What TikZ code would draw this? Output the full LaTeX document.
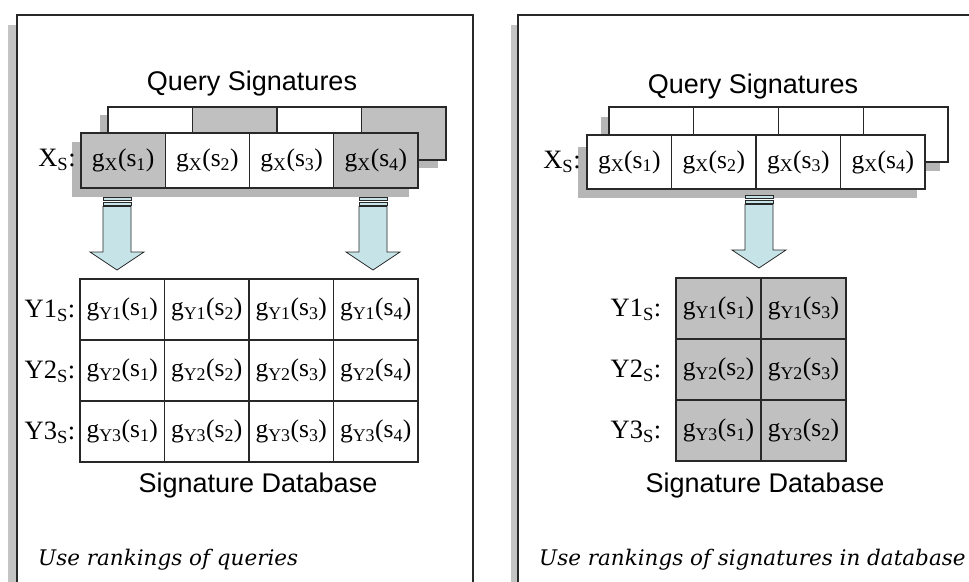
\documentclass[tikz,border=0pt]{standalone}
\usepackage{fontspec}
\setmainfont{Liberation Serif}
\newfontfamily\headfont{Liberation Sans}
\newfontfamily\notefont{DejaVu Serif}
\definecolor{cellgray}{RGB}{192,192,192}
\definecolor{shadowgray}{RGB}{182,182,182}
\definecolor{framegray}{RGB}{196,196,196}
\definecolor{arrowcyan}{RGB}{198,228,232}
\definecolor{linedark}{RGB}{40,40,40}
\tikzset{
  cell/.style={draw=linedark, line width=1.2pt, inner sep=0pt, font=\fontsize{25.5}{28}\selectfont},
  frontL/.style={cell, minimum width=84.25pt, minimum height=55pt},
  backL/.style={cell, minimum width=84.5pt, minimum height=53pt},
  gridL/.style={cell, minimum width=84.5pt, minimum height=61pt},
  frontR/.style={cell, minimum width=84.5pt, minimum height=54pt},
  backR/.style={cell, minimum width=84.75pt, minimum height=55pt},
  gridR/.style={cell, minimum width=85pt, minimum height=61pt},
  gfill/.style={fill=cellgray},
  wfill/.style={fill=white},
  head/.style={font=\headfont\fontsize{27}{30}\selectfont, inner sep=0pt},
  rowlab/.style={font=\fontsize{26.5}{28}\selectfont, inner sep=0pt},
  note/.style={font=\notefont\itshape\fontsize{21.5}{24}\selectfont, inner sep=0pt, anchor=west},
  frameline/.style={draw=linedark, line width=1.6pt},
  arrowpart/.style={draw=linedark, line width=0.8pt, fill=arrowcyan},
  dnarrow/.pic={
    \path[arrowpart] (-14,0) rectangle (14,3.5);
    \path[arrowpart] (-14,5) rectangle (14,8);
    \path[arrowpart] (-14,9.5) -- (14,9.5) -- (14,55) -- (27,55) -- (0,73) -- (-27,55) -- (-14,55) -- cycle;
  }
}
\begin{document}
\begin{tikzpicture}[x=1pt,y=-1pt]
\useasboundingbox (0,0) rectangle (969,581);
\clip (0,0) rectangle (969,581);
\fill[white] (0,0) rectangle (969,581);
% frames
\fill[framegray] (8,25) rectangle (17,600);
\draw[frameline] (17,600) -- (17,15) -- (473,15) -- (473,600);
\fill[framegray] (511,25) rectangle (518,600);
\draw[frameline] (518,600) -- (518,15) -- (1000,15);

% ---------------- LEFT PANEL ----------------
\node[head] (qL) at (252,84) {Query Signatures};
\fill[shadowgray] (100,115) rectangle (438,168);
\node[backL,wfill] (lb1) at (150.25,133.5) {};
\node[backL,gfill] (lb2) at (234.75,133.5) {};
\node[backL,wfill] (lb3) at (319.25,133.5) {};
\node[backL,gfill] (lb4) at (403.75,133.5) {};
\fill[shadowgray] (72,142) rectangle (409,197);
\node[frontL,gfill] (lf1) at (123.125,160.5) {g\textsubscript{X}(s\textsubscript{1})};
\node[frontL,wfill] (lf2) at (207.375,160.5) {g\textsubscript{X}(s\textsubscript{2})};
\node[frontL,wfill] (lf3) at (291.625,160.5) {g\textsubscript{X}(s\textsubscript{3})};
\node[frontL,gfill] (lf4) at (375.875,160.5) {g\textsubscript{X}(s\textsubscript{4})};
\node[rowlab] (lx) at (57,160) {X\textsubscript{S}:};

\pic at (117,197) {dnarrow};
\pic at (373,197) {dnarrow};

\node[gridL] (l11) at (122.25,309.5) {g\textsubscript{Y1}(s\textsubscript{1})};
\node[gridL] (l12) at (206.75,309.5) {g\textsubscript{Y1}(s\textsubscript{2})};
\node[gridL] (l13) at (291.25,309.5) {g\textsubscript{Y1}(s\textsubscript{3})};
\node[gridL] (l14) at (375.75,309.5) {g\textsubscript{Y1}(s\textsubscript{4})};
\node[gridL] (l21) at (122.25,370.5) {g\textsubscript{Y2}(s\textsubscript{1})};
\node[gridL] (l22) at (206.75,370.5) {g\textsubscript{Y2}(s\textsubscript{2})};
\node[gridL] (l23) at (291.25,370.5) {g\textsubscript{Y2}(s\textsubscript{3})};
\node[gridL] (l24) at (375.75,370.5) {g\textsubscript{Y2}(s\textsubscript{4})};
\node[gridL] (l31) at (122.25,431.5) {g\textsubscript{Y3}(s\textsubscript{1})};
\node[gridL] (l32) at (206.75,431.5) {g\textsubscript{Y3}(s\textsubscript{2})};
\node[gridL] (l33) at (291.25,431.5) {g\textsubscript{Y3}(s\textsubscript{3})};
\node[gridL] (l34) at (375.75,431.5) {g\textsubscript{Y3}(s\textsubscript{4})};
\node[rowlab] (ly1) at (50,311) {Y1\textsubscript{S}:};
\node[rowlab] (ly2) at (50,372) {Y2\textsubscript{S}:};
\node[rowlab] (ly3) at (50,433) {Y3\textsubscript{S}:};
\node[head] (dL) at (258,486) {Signature Database};
\node[note] (nL) at (38,560) {Use rankings of queries};

% ---------------- RIGHT PANEL ----------------
\node[head] (qR) at (753,87) {Query Signatures};
\fill[shadowgray] (601,117) rectangle (940,171);
\node[backR,wfill] (rb1) at (651.375,134.5) {};
\node[backR,wfill] (rb2) at (736.125,134.5) {};
\node[backR,wfill] (rb3) at (820.875,134.5) {};
\node[backR,wfill] (rb4) at (905.625,134.5) {};
\fill[shadowgray] (578,147) rectangle (917,198);
\node[frontR,wfill] (rf1) at (629.25,162) {g\textsubscript{X}(s\textsubscript{1})};
\node[frontR,wfill] (rf2) at (713.75,162) {g\textsubscript{X}(s\textsubscript{2})};
\node[frontR,wfill] (rf3) at (798.25,162) {g\textsubscript{X}(s\textsubscript{3})};
\node[frontR,wfill] (rf4) at (882.75,162) {g\textsubscript{X}(s\textsubscript{4})};
\node[rowlab] (rx) at (562,162) {X\textsubscript{S}:};

\pic at (759,195) {dnarrow};

\node[gridR,gfill] (r11) at (718.5,308.5) {g\textsubscript{Y1}(s\textsubscript{1})};
\node[gridR,gfill] (r12) at (803.5,308.5) {g\textsubscript{Y1}(s\textsubscript{3})};
\node[gridR,gfill] (r21) at (718.5,369.5) {g\textsubscript{Y2}(s\textsubscript{2})};
\node[gridR,gfill] (r22) at (803.5,369.5) {g\textsubscript{Y2}(s\textsubscript{3})};
\node[gridR,gfill] (r31) at (718.5,430.5) {g\textsubscript{Y3}(s\textsubscript{1})};
\node[gridR,gfill] (r32) at (803.5,430.5) {g\textsubscript{Y3}(s\textsubscript{2})};
\node[rowlab] (ry1) at (636,310) {Y1\textsubscript{S}:};
\node[rowlab] (ry2) at (636,371) {Y2\textsubscript{S}:};
\node[rowlab] (ry3) at (636,432) {Y3\textsubscript{S}:};
\node[head] (dR) at (765,486) {Signature Database};
\node[note] (nR) at (539,560) {Use rankings of signatures in database};
\end{tikzpicture}
\end{document}
